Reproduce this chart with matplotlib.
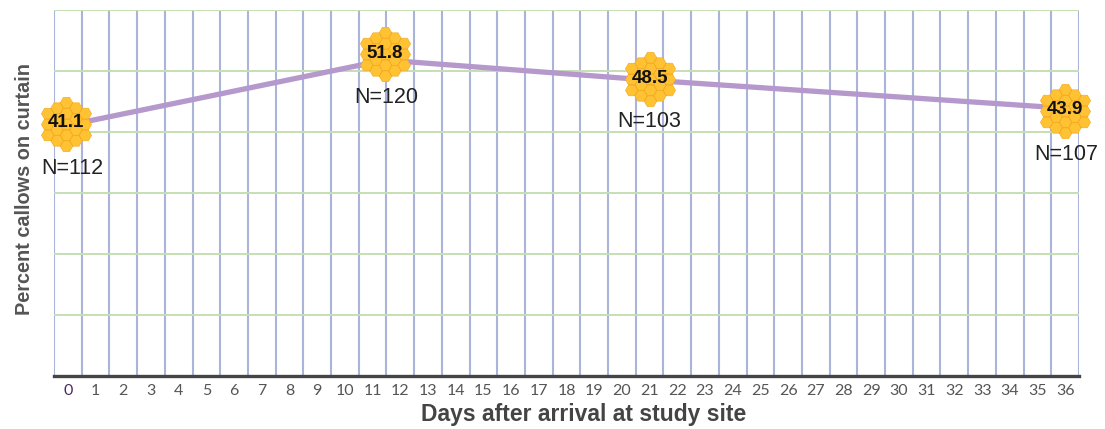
import matplotlib
matplotlib.use("Agg")
import matplotlib.pyplot as plt
import numpy as np
from matplotlib.path import Path
from matplotlib.transforms import Affine2D

# Values
days = [0, 11.45, 21, 36]
percent = [41.1, 51.8, 48.5, 43.9]
sample_sizes = ['N=112', 'N=120', 'N=103', 'N=107']
day_labels = [str(d) for d in range(37)]

plt.rcParams['font.family'] = ['Liberation Sans', 'DejaVu Sans']

# Honeycomb marker: 19 flat-top hexagons
hex_angles = np.radians(np.arange(0, 360, 60))
cells = []
for q in range(-2, 3):
    for r in range(-2, 3):
        if abs(q + r) > 2:
            continue
        cx = 1.5 * q
        cy = np.sqrt(3) * (r + q / 2)
        verts = np.column_stack([cx + np.cos(hex_angles), cy + np.sin(hex_angles)])
        verts = np.vstack([verts, verts[0]])
        cells.append(Path(verts, closed=True))
honeycomb = Path.make_compound_path(*cells)

fig = plt.figure(figsize=(11.05, 4.29), dpi=100)
ax = fig.add_axes([54 / 1105, 1 - 376 / 429, (1079 - 54) / 1105, (376 - 10) / 429])

ax.set_xlim(-0.5, 36.5)
ax.set_ylim(0, 60)

# gridlines sit between the day categories
ax.set_xticks(np.arange(-0.5, 37, 1), minor=True)
ax.set_xticks(range(37))
ax.set_xticklabels(day_labels, family=['Lato', 'DejaVu Sans'], fontsize=11.5, color='#555555')
ax.get_xticklabels()[0].set_color('#4b2a5e')
ax.set_yticks(range(0, 61, 10))
ax.set_yticklabels([])
ax.tick_params(axis='both', which='both', length=0)
ax.tick_params(axis='x', which='major', pad=6)
ax.grid(True, axis='x', which='minor', color='#aab4d8', lw=1.5)
ax.grid(True, axis='y', which='major', color='#c6dfb4', lw=1.4)
ax.set_axisbelow(True)

for side in ['top', 'left', 'right']:
    ax.spines[side].set_visible(False)
ax.spines['bottom'].set_color('#444444')
ax.spines['bottom'].set_linewidth(2.4)

ax.plot(days, percent, color='#b598cc', lw=3.8, solid_capstyle='butt', clip_on=False, zorder=3)

# the badges in the original sit a few pixels off the line (offsets in pixels)
badge_shifts = [(-2, 1), (0, 6), (0, 1), (0, -3)]
value_shifts = [(-2, 3), (0, 7), (0, 2), (0, -1)]
n_offsets = [(3, -31), (1, -27), (0, -30), (1, -33)]
for d, p, n, bs, vs, off in zip(days, percent, sample_sizes, badge_shifts, value_shifts, n_offsets):
    ax.plot([d], [p], ls='none', marker=honeycomb, ms=39, mfc='#ffc233', mec='#f6ad26', mew=0.5,
            clip_on=False, zorder=4, transform=ax.transData + Affine2D().translate(*bs))
    ax.annotate(f'{p}', (d, p), xytext=(vs[0] * 0.72, vs[1] * 0.72), textcoords='offset points',
                ha='center', va='center', fontsize=13.5, fontweight='bold', color='#111111',
                zorder=5, annotation_clip=False)
    ax.annotate(n, (d, p), xytext=off, textcoords='offset points', ha='center', va='center',
                fontsize=15.5, color='#222222', zorder=5, annotation_clip=False)

ax.set_xlabel('Days after arrival at study site', fontsize=16.5, fontweight='bold', color='#444444', x=0.517, labelpad=3)
ax.set_ylabel('Percent callows on curtain', fontsize=14.3, fontweight='bold', color='#555555', labelpad=11, y=0.51)

fig.savefig('out.png', dpi=100)
